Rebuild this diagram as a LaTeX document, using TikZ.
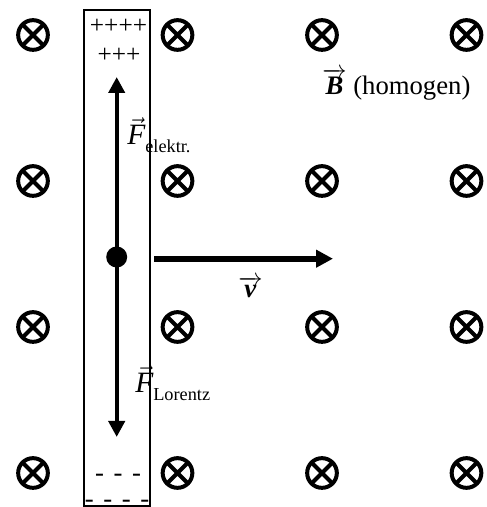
\documentclass[tikz,border=0pt]{standalone}
\usepackage{amsmath}
\usepackage{fontspec}
\setmainfont{Liberation Serif}
\usetikzlibrary{arrows.meta,positioning}

\newcommand{\Fvec}[1]{{\fontsize{21}{25}\selectfont$\vec{\textit{F}}$}\raisebox{-0.2cm}{\fontsize{13}{15}\selectfont #1}}

\begin{document}
\begin{tikzpicture}[
    bsym/.style={circle,draw,line width=0.1cm,minimum size=0.742cm,inner sep=0pt,
      path picture={\draw[line width=0.1cm]
        (path picture bounding box.north west) -- (path picture bounding box.south east)
        (path picture bounding box.north east) -- (path picture bounding box.south west);}},
    force/.style={line width=0.1075cm,-{Triangle[width=0.4cm,length=0.4cm]}},
    speed/.style={line width=0.15cm,-{Triangle[width=0.425cm,length=0.425cm]}},
    lbl/.style={inner sep=0pt,font=\fontsize{19}{23}\selectfont},
    charge/.style={inner sep=0pt,font=\fontsize{18}{22}\selectfont}
  ]
        \useasboundingbox (0,0) rectangle (12.15,12.675);

        \foreach \x [count=\i] in {0.825,4.4375,8.05,11.6625}
          \foreach \y [count=\j] in {11.8,8.15,4.5,0.85}
            \node[bsym] (b\i\j) at (\x,\y) {};

        \draw[line width=0.05cm] (2.1,0.025) rectangle (3.75,12.425);
        \node[charge] (plus1) at (2.9625,12.025) {++++};
        \node[charge] (plus2) at (2.975,11.3) {+++};
        \node[lbl,anchor=base] (minus1) at (2.95,0.625) {-\hspace{0.36em}-\hspace{0.36em}-};
        \node[lbl,anchor=base] (minus2) at (2.925,0.0) {-\hspace{0.36em}-\hspace{0.36em}-\hspace{0.36em}-};

        \node[circle,fill,inner sep=0pt,minimum size=0.525cm] (q) at (2.9175,6.25) {};
        \coordinate (ftop) at (2.9175,10.75);
        \coordinate (fbot) at (2.9175,1.75);
        \draw[force] (q.center) -- (ftop);
        \draw[force] (q.center) -- (fbot);

        \coordinate (vstart) at (3.85,6.2075);
        \coordinate (vend) at (8.325,6.2075);
        \draw[speed] (vstart) -- (vend);

        \node[lbl,anchor=base west] (Fel) at (3.175,9.05) {\Fvec{elektr.}};
        \node[lbl,anchor=base west] (FL) at (3.375,2.85) {\Fvec{Lorentz}};
        \node[lbl,anchor=base west] (vlbl) at (5.95,5.225) {$\overrightarrow{\textbf{\textit{v}}}$};
        \node[lbl,anchor=base west] (Blbl) at (8.05,10.3) {$\overrightarrow{\textbf{\textit{B}}}$ (homogen)};
    \end{tikzpicture}
\end{document}
